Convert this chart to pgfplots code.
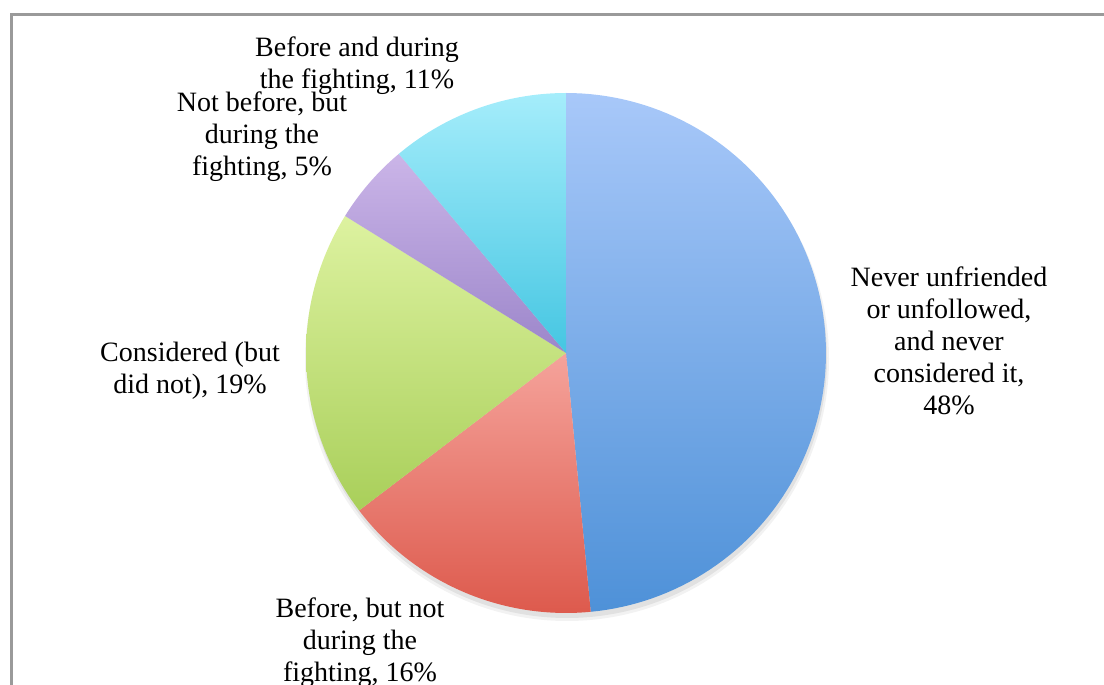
\documentclass[border=0pt]{standalone}
\usepackage{pgfplots}
\pgfplotsset{compat=1.18}
\usepackage{fontspec}
\setmainfont{Liberation Serif}
\definecolor{blueT}{HTML}{A8C8F9}\definecolor{blueB}{HTML}{4E91D8}
\definecolor{redT}{HTML}{F5A39B}\definecolor{redB}{HTML}{DD5A4D}
\definecolor{greenT}{HTML}{DDF2A0}\definecolor{greenB}{HTML}{A9CF5A}
\definecolor{purpT}{HTML}{CBB5E8}\definecolor{purpB}{HTML}{9C86CA}
\definecolor{cyanT}{HTML}{A5EDFB}\definecolor{cyanB}{HTML}{45C6E2}
\definecolor{frame}{HTML}{9A9A9A}
% slice values (percent)
\def\vA{48}\def\vB{16}\def\vC{19}\def\vD{5}\def\vE{11}
\pgfmathsetmacro\tot{\vA+\vB+\vC+\vD+\vE}
\pgfmathsetmacro\aA{90}
\pgfmathsetmacro\aB{\aA-\vA/\tot*360}
\pgfmathsetmacro\aC{\aB-\vB/\tot*360}
\pgfmathsetmacro\aD{\aC-\vC/\tot*360}
\pgfmathsetmacro\aE{\aD-\vD/\tot*360}
\pgfmathsetmacro\aF{\aE-\vE/\tot*360}
\def\cx{566}\def\cy{332}\def\R{260}
\begin{document}
\begin{tikzpicture}
\begin{axis}[scale only axis, width=1104pt, height=685pt,
  xmin=0, xmax=1104, ymin=0, ymax=685, hide axis, clip=false]
\coordinate (SW) at (axis cs:0,0);
\coordinate (NE) at (axis cs:1104,685);
% frame
\draw[frame, line width=3pt] (axis cs:11,0) -- (axis cs:11,670) -- (axis cs:1104,670);
% soft shadow (bottom)
\fill[black, opacity=0.05] (axis cs:567,326) circle[radius=262pt];
\fill[black, opacity=0.07] (axis cs:567,327) circle[radius=260pt];
% slices
\addplot[draw=none, top color=blueT, bottom color=blueB, domain=\aB:\aA, samples=100, variable=\t]
  ({\cx+\R*cos(\t)},{\cy+\R*sin(\t)}) -- (axis cs:\cx,\cy) -- cycle;
\addplot[draw=none, top color=redT, bottom color=redB, domain=\aC:\aB, samples=50, variable=\t]
  ({\cx+\R*cos(\t)},{\cy+\R*sin(\t)}) -- (axis cs:\cx,\cy) -- cycle;
\addplot[draw=none, top color=greenT, bottom color=greenB, domain=\aD:\aC, samples=50, variable=\t]
  ({\cx+\R*cos(\t)},{\cy+\R*sin(\t)}) -- (axis cs:\cx,\cy) -- cycle;
\addplot[draw=none, top color=purpT, bottom color=purpB, domain=\aE:\aD, samples=30, variable=\t]
  ({\cx+\R*cos(\t)},{\cy+\R*sin(\t)}) -- (axis cs:\cx,\cy) -- cycle;
\addplot[draw=none, top color=cyanT, bottom color=cyanB, domain=\aF:\aE, samples=40, variable=\t]
  ({\cx+\R*cos(\t)},{\cy+\R*sin(\t)}) -- (axis cs:\cx,\cy) -- cycle;
% labels
\node[align=center, font=\fontsize{28}{32}\selectfont, inner sep=0pt] at (axis cs:357,619) {Before and during\\the fighting, 11\%};
\node[align=center, font=\fontsize{28}{32}\selectfont, inner sep=0pt] at (axis cs:262,548) {Not before, but\\during the\\fighting, 5\%};
\node[align=center, font=\fontsize{28}{32}\selectfont, inner sep=0pt] at (axis cs:190,314) {Considered (but\\did not), 19\%};
\node[align=center, font=\fontsize{28}{32}\selectfont, inner sep=0pt] at (axis cs:949,344) {Never unfriended\\or unfollowed,\\and never\\considered it,\\48\%};
\node[align=center, font=\fontsize{28}{32}\selectfont, inner sep=0pt] at (axis cs:360,42) {Before, but not\\during the\\fighting, 16\%};
\end{axis}
\pgfresetboundingbox
\path[use as bounding box] (SW) rectangle (NE);
\end{tikzpicture}
\end{document}
